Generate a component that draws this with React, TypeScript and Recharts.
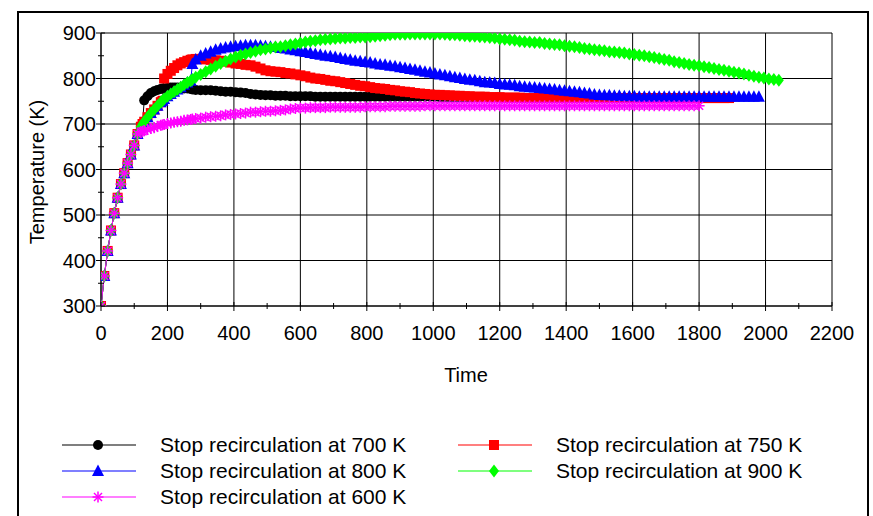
import React from 'react';
import { LineChart, Line, XAxis, YAxis, CartesianGrid } from 'recharts';

// sample times; the first twelve belong to the common heating ramp
const time = [
  0, 10, 20, 30, 40, 50, 60, 70, 80, 90, 100, 110,
  120, 125, 130, 140, 150, 160, 170, 180, 185, 190,
  200, 210, 220, 230, 240, 250, 260, 270, 275, 285,
  300, 315, 330, 345, 360, 375, 390, 405, 420, 435,
  450, 465, 480, 495, 510, 525, 540, 555, 570, 585,
  600, 615, 630, 645, 660, 675, 690, 705, 720, 735,
  750, 765, 780, 795, 810, 825, 840, 855, 870, 885,
  900, 915, 930, 945, 960, 975, 990, 1005, 1020, 1035,
  1050, 1065, 1080, 1095, 1110, 1125, 1140, 1155, 1170, 1185,
  1200, 1215, 1230, 1245, 1260, 1275, 1290, 1305, 1320, 1335,
  1350, 1365, 1380, 1395, 1410, 1425, 1440, 1455, 1470, 1485,
  1500, 1515, 1530, 1545, 1560, 1575, 1590, 1605, 1620, 1635,
  1650, 1665, 1680, 1695, 1710, 1725, 1740, 1755, 1770, 1785,
  1800, 1815, 1830, 1845, 1860, 1875, 1890, 1905, 1920, 1935,
  1950, 1965, 1980, 1995, 2010, 2025, 2040,
];

// heating ramp shared by every run (K)
const ramp = [300, 366, 421, 466, 504, 538, 568, 592, 614, 633, 653, 678];

const stop700 = [
  ...ramp,
  694, 700, 752, 761, 768, 772, 775, 777, 778, 778,
  779, 780, 780, 780, 779, 778, 778, 777, 776, 775,
  774, 774, 774, 773, 772, 771, 771, 770, 769, 768,
  766, 765, 764, 763, 763, 762, 762, 762, 761, 761,
  761, 761, 761, 760, 760, 760, 760, 760, 760, 760,
  760, 760, 760, 760, 760, 760, 760, 760, 760, 760,
  760, 760, 760, 760, 760, 760, 760, 760, 759, 759,
  759, 759, 759, 759, 759, 759, 759, null, null, null,
  null, null, null, null, null, null, null, null, null, null,
  null, null, null, null, null, null, null, null, null, null,
  null, null, null, null, null, null, null, null, null, null,
  null, null, null, null, null, null, null, null, null, null,
  null, null, null, null, null, null, null, null, null, null,
  null, null, null, null, null, null, null,
];

const stop750 = [
  ...ramp,
  694, 700, 705, 715, 724, 732, 740, 748, 751, 800,
  810, 817, 823, 829, 833, 836, 839, 841, 842, 843,
  843, 842, 841, 840, 839, 837, 835, 833, 832, 830,
  829, 826, 822, 818, 816, 815, 814, 812, 811, 809,
  807, 805, 802, 800, 799, 797, 795, 794, 792, 790,
  788, 786, 784, 783, 781, 779, 778, 777, 775, 774,
  772, 771, 770, 768, 767, 766, 765, 764, 764, 763,
  763, 762, 762, 761, 761, 760, 760, 760, 759, 759,
  759, 758, 758, 758, 758, 757, 757, 757, 757, 757,
  757, 757, 757, 757, 757, 757, 757, 757, 757, 757,
  757, 757, 757, 757, 757, 757, 757, 757, 757, 757,
  757, 757, 757, 757, 757, 757, 757, 757, 757, 757,
  757, 757, 757, 757, 757, 757, 757, null, null, null,
  null, null, null, null, null, null, null,
];

const stop800 = [
  ...ramp,
  694, 700, 705, 715, 724, 732, 740, 748, 751, 755,
  761, 766, 771, 776, 781, 786, 791, 795, 832, 842,
  850, 855, 859, 863, 866, 868, 870, 871, 872, 873,
  873, 873, 872, 871, 870, 869, 867, 866, 864, 862,
  860, 858, 856, 854, 852, 850, 849, 847, 845, 843,
  841, 839, 838, 836, 835, 833, 831, 830, 828, 827,
  825, 823, 821, 819, 817, 815, 813, 811, 809, 807,
  805, 803, 801, 799, 797, 796, 794, 792, 791, 790,
  788, 787, 786, 785, 783, 782, 781, 780, 779, 778,
  777, 776, 774, 773, 772, 771, 770, 768, 767, 765,
  764, 763, 763, 762, 762, 761, 761, 761, 760, 760,
  760, 760, 760, 760, 760, 760, 760, 760, 760, 760,
  760, 760, 760, 760, 760, 760, 760, 760, 760, 760,
  760, 760, 760, null, null, null, null,
];

const stop900 = [
  ...ramp,
  694, 700, 705, 715, 724, 732, 740, 748, 751, 755,
  761, 766, 771, 776, 781, 786, 791, 795, 798, 803,
  809, 815, 821, 827, 833, 838, 843, 847, 851, 854,
  857, 860, 863, 865, 867, 869, 870, 872, 874, 876,
  878, 880, 882, 883, 885, 886, 887, 888, 889, 889,
  890, 890, 891, 891, 892, 893, 894, 895, 896, 897,
  897, 897, 898, 898, 898, 898, 898, 898, 898, 897,
  896, 896, 895, 894, 893, 893, 892, 891, 890, 889,
  887, 886, 885, 884, 882, 881, 880, 879, 879, 877,
  876, 875, 874, 872, 871, 870, 868, 866, 865, 863,
  862, 861, 859, 858, 857, 856, 854, 853, 851, 850,
  848, 846, 844, 842, 840, 837, 835, 833, 831, 829,
  828, 826, 824, 822, 820, 818, 816, 814, 812, 810,
  807, 805, 803, 801, 799, 798, 796,
];

const stop600 = [
  ...ramp,
  683, 684, 685, 688, 690, 692, 695, 697, 698, 699,
  701, 702, 704, 705, 706, 708, 709, 710, 711, 712,
  713, 715, 716, 717, 718, 720, 721, 722, 723, 724,
  726, 726, 727, 728, 728, 729, 730, 731, 733, 734,
  735, 735, 736, 736, 736, 736, 737, 737, 737, 737,
  737, 737, 737, 738, 738, 738, 738, 738, 739, 739,
  739, 739, 739, 739, 739, 740, 740, 740, 740, 740,
  740, 740, 740, 740, 740, 740, 740, 740, 740, 740,
  740, 740, 740, 740, 740, 740, 740, 740, 740, 740,
  740, 740, 740, 740, 740, 740, 740, 740, 740, 740,
  740, 740, 740, 740, 740, 740, 740, 740, 740, 740,
  740, 740, 740, 740, 740, 740, 740, 740, 740, 740,
  740, null, null, null, null, null, null, null, null, null,
  null, null, null, null, null, null, null,
];

const timeTicks = [
  0, 100, 200, 300, 400, 500, 600, 700, 800, 900, 1000, 1100,
  1200, 1300, 1400, 1500, 1600, 1700, 1800, 1900, 2000, 2100, 2200,
];
const timeGrid = [0, 200, 400, 600, 800, 1000, 1200, 1400, 1600, 1800, 2000, 2200];
const tempTicks = [300, 350, 400, 450, 500, 550, 600, 650, 700, 750, 800, 850, 900];
const tempGrid = [300, 400, 500, 600, 700, 800, 900];

type Shape = 'circle' | 'square' | 'triangle' | 'diamond' | 'star';

const series: { key: string; name: string; color: string; shape: Shape; values: (number | null)[] }[] = [
  { key: 's700', name: 'Stop recirculation at 700 K', color: '#000000', shape: 'circle', values: stop700 },
  { key: 's750', name: 'Stop recirculation at 750 K', color: '#ff0000', shape: 'square', values: stop750 },
  { key: 's800', name: 'Stop recirculation at 800 K', color: '#0000ff', shape: 'triangle', values: stop800 },
  { key: 's900', name: 'Stop recirculation at 900 K', color: '#00ff00', shape: 'diamond', values: stop900 },
  { key: 's600', name: 'Stop recirculation at 600 K', color: '#ff00ff', shape: 'star', values: stop600 },
];

const rows = time.map((t, i) => {
  const row: Record<string, number | null> = { t };
  series.forEach((s) => {
    row[s.key] = s.values[i] ?? null;
  });
  return row;
});

const FONT = '"Liberation Sans", Arial, sans-serif';

const Marker = ({ shape, x, y, color }: { shape: Shape; x: number; y: number; color: string }) => {
  switch (shape) {
    case 'circle':
      return <circle cx={x} cy={y} r={5} fill={color} />;
    case 'square':
      return <rect x={x - 5} y={y - 5} width={10} height={10} fill={color} />;
    case 'triangle':
      return <polygon points={`${x},${y - 6.5} ${x + 6},${y + 5} ${x - 6},${y + 5}`} fill={color} />;
    case 'diamond':
      return <polygon points={`${x},${y - 6.5} ${x + 5},${y} ${x},${y + 6.5} ${x - 5},${y}`} fill={color} />;
    default:
      return (
        <g stroke={color} strokeWidth={1.5}>
          <line x1={x} y1={y - 5.5} x2={x} y2={y + 5.5} />
          <line x1={x - 5.5} y1={y} x2={x + 5.5} y2={y} />
          <line x1={x - 4} y1={y - 4} x2={x + 4} y2={y + 4} />
          <line x1={x - 4} y1={y + 4} x2={x + 4} y2={y - 4} />
        </g>
      );
  }
};

const makeDot = (shape: Shape, color: string, key: string) => (props: any) => {
  const { cx, cy, value, index } = props;
  if (cx == null || cy == null || value == null) return <g key={`${key}-${index}`} />;
  return (
    <g key={`${key}-${index}`}>
      <Marker shape={shape} x={cx} y={cy} color={color} />
    </g>
  );
};

const TimeTick = (props: any) => {
  const { x, y, payload } = props;
  const major = payload.value % 200 === 0;
  return (
    <g>
      <line x1={x} x2={x} y1={y - (major ? 4 : 3)} y2={y + (major ? 5 : 3)} stroke="#000" />
      {major && (
        <text x={x} y={y + 34} textAnchor="middle" fontSize={20} fontFamily={FONT} fill="#000">
          {payload.value}
        </text>
      )}
    </g>
  );
};

const TempTick = (props: any) => {
  const { x, y, payload } = props;
  const major = payload.value % 100 === 0;
  return (
    <g>
      <line x1={x - (major ? 5 : 3)} x2={x + (major ? 4 : 3)} y1={y} y2={y} stroke="#000" />
      {major && (
        <text x={x - 5} y={y + 7} textAnchor="end" fontSize={20} fontFamily={FONT} fill="#000">
          {payload.value}
        </text>
      )}
    </g>
  );
};

const LegendItem = ({ s, left, top }: { s: (typeof series)[number]; left: number; top: number }) => (
  <div style={{ position: 'absolute', left, top, height: 24, display: 'flex', alignItems: 'center' }}>
    <svg width={74} height={24} style={{ display: 'block' }}>
      <line x1={0} x2={74} y1={12} y2={12} stroke={s.color} strokeWidth={1.2} />
      <Marker shape={s.shape} x={36} y={12} color={s.color} />
    </svg>
    <span style={{ marginLeft: 24, fontFamily: FONT, fontSize: 21, color: '#000', whiteSpace: 'nowrap' }}>
      {s.name}
    </span>
  </div>
);

export default function App() {
  return (
    <div style={{ position: 'fixed', left: 0, top: 0, width: 873, height: 516, background: '#fff', overflow: 'hidden' }}>
      <div
        style={{
          position: 'absolute',
          left: 17,
          top: 11,
          width: 848,
          height: 540,
          border: '2px solid #000',
        }}
      />
      <div style={{ position: 'absolute', left: 0, top: 0 }}>
        <LineChart width={873} height={516} data={rows} margin={{ top: 33, right: 41, left: 41, bottom: 180 }}>
          <CartesianGrid stroke="#000" verticalValues={timeGrid} horizontalValues={tempGrid} />
          <XAxis
            dataKey="t"
            type="number"
            domain={[0, 2200]}
            ticks={timeTicks}
            interval={0}
            height={30}
            tickSize={0}
            tickMargin={0}
            tickLine={false}
            tick={<TimeTick />}
            axisLine={{ stroke: '#000' }}
            allowDataOverflow
          />
          <YAxis
            type="number"
            domain={[300, 900]}
            ticks={tempTicks}
            interval={0}
            width={60}
            tickSize={0}
            tickMargin={0}
            tickLine={false}
            tick={<TempTick />}
            axisLine={{ stroke: '#000' }}
            allowDataOverflow
          />
          {series.map((s) => (
            <Line
              key={s.key}
              dataKey={s.key}
              name={s.name}
              stroke={s.color}
              strokeWidth={1}
              type="linear"
              dot={makeDot(s.shape, s.color, s.key)}
              activeDot={false}
              isAnimationActive={false}
            />
          ))}
        </LineChart>
      </div>
      <div
        style={{
          position: 'absolute',
          left: 37,
          top: 172,
          transform: 'translate(-50%, -50%) rotate(-90deg)',
          fontFamily: FONT,
          fontSize: 20,
          whiteSpace: 'nowrap',
        }}
      >
        Temperature (K)
      </div>
      <div
        style={{
          position: 'absolute',
          left: 466,
          top: 375,
          transform: 'translate(-50%, -50%)',
          fontFamily: FONT,
          fontSize: 20,
        }}
      >
        Time
      </div>
      <LegendItem s={series[0]} left={62} top={433} />
      <LegendItem s={series[1]} left={458} top={433} />
      <LegendItem s={series[2]} left={62} top={459} />
      <LegendItem s={series[3]} left={458} top={459} />
      <LegendItem s={series[4]} left={62} top={485} />
    </div>
  );
}
